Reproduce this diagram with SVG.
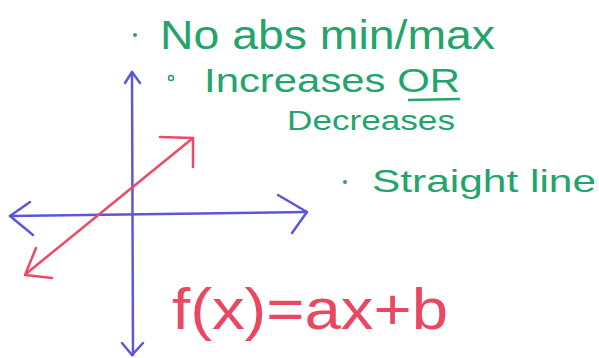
<svg xmlns="http://www.w3.org/2000/svg" width="599" height="358" viewBox="0 0 599 358">
<style>
.g{fill:#23a46c;font-family:"Liberation Sans",sans-serif}
.r{fill:#ea4763;font-family:"Liberation Sans",sans-serif}
.ax{stroke:#5b57d8;stroke-width:2.5;fill:none;stroke-linecap:round;stroke-linejoin:round}
.ln{stroke:#ec4a66;stroke-width:2.5;fill:none;stroke-linecap:round;stroke-linejoin:round}
</style>
<rect width="599" height="358" fill="#fff"/>
<g id="axes">
<path class="ax" d="M132,72 L133,355"/>
<path class="ax" d="M125,83 L132,72 L140,83"/>
<path class="ax" d="M122,343 L132,355 L143,343"/>
<path class="ax" d="M10,216 L307,212"/>
<path class="ax" d="M30,202 L10,216 L33,235"/>
<path class="ax" d="M278,195 L307,212 L292,233"/>
</g>
<g id="line">
<path class="ln" d="M27,273 L193,138"/>
<path class="ln" d="M160,137 L193,138 L193,167"/>
<path class="ln" d="M36,248 L25,275 L52,278"/>
</g>
<g id="notes">
<circle cx="135" cy="35" r="2" fill="#23a46c"/>
<text class="g" x="160" y="49" font-size="40" textLength="335" lengthAdjust="spacingAndGlyphs">No abs min/max</text>
<circle cx="171" cy="78" r="2.5" fill="none" stroke="#23a46c" stroke-width="1.5"/>
<text class="g" x="204" y="92" font-size="34" textLength="256" lengthAdjust="spacingAndGlyphs">Increases OR</text>
<path d="M408,100 L460,99" stroke="#23a46c" stroke-width="2.5" fill="none"/>
<text class="g" x="287" y="130" font-size="28" textLength="168" lengthAdjust="spacingAndGlyphs">Decreases</text>
<circle cx="345" cy="182" r="2" fill="#23a46c"/>
<text class="g" x="372" y="192" font-size="32" textLength="224" lengthAdjust="spacingAndGlyphs">Straight line</text>
</g>
<g id="formula">
<text class="r" x="172" y="329" font-size="58" textLength="276" lengthAdjust="spacingAndGlyphs">f(x)=ax+b</text>
</g>
</svg>
